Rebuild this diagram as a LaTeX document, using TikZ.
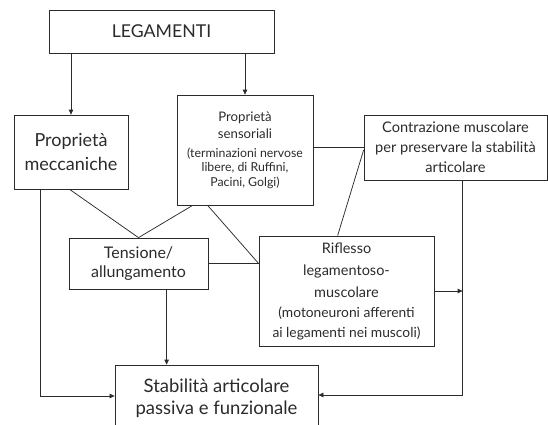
\documentclass[tikz,border=0pt]{standalone}
\usepackage{fontspec}
\setmainfont{Lato}
\usetikzlibrary{arrows.meta,calc}
\definecolor{ink}{HTML}{2B2B2B}
\newcommand{\fs}[2]{\fontsize{#1}{#2}\selectfont}
\begin{document}
\begin{tikzpicture}[x=1pt,y=-1pt,
  box/.style={draw=ink,line width=0.75pt,text=ink,align=center,inner sep=0pt,anchor=center},
  conn/.style={draw=ink,line width=0.75pt},
  arr/.style={conn,-{Triangle[length=5pt,width=4.5pt]}}]
\useasboundingbox (0,0) rectangle (548,424);
\clip (0,0) rectangle (548,424);
\node[box,minimum width=225pt,minimum height=43pt,font=\fs{17.7}{20}] (leg) at (161.5,31.5) {LEGAMENTI};
\node[box,minimum width=114pt,minimum height=74pt,font=\fs{18}{24}] (mec) at (71,152) {Proprietà\\meccaniche};
\node[box,minimum width=136pt,minimum height=110pt,font=\fs{12.3}{14.5}] (sen) at (245,150)
  {\fs{13.2}{17}Proprietà\\[2.5pt]\fs{13.2}{17}sensoriali\\[4.5pt](terminazioni nervose\\libere, di Ruffini,\\Pacini, Golgi)};
\node[box,minimum width=183pt,minimum height=65pt,font=\fs{14.6}{20}] (con) at (455.5,147.5)
  {Contrazione muscolare\\per preservare la stabilità\\articolare};
\node[box,minimum width=139pt,minimum height=51pt,font=\fs{16}{19}] (ten) at (138.5,263.5) {Tensione/\\allungamento};
\node[box,minimum width=175pt,minimum height=110pt,font=\fs{13.8}{20}] (rif) at (346.5,291)
  {\fs{14.5}{22}Riflesso\\[2pt]\fs{14.5}{22}legamentoso-\\[2pt]\fs{14.5}{22}muscolare\\(motoneuroni afferenti\\ai legamenti nei muscoli)};
\node[box,minimum width=203pt,minimum height=66pt,font=\fs{18.5}{22}] (sta) at (216.5,398) {Stabilità articolare\\passiva e funzionale};
\coordinate (cx) at ([xshift=99pt]con.south west);
\coordinate (tx) at ([xshift=98pt]ten.south west);
\coordinate (mx) at ([xshift=27pt]mec.south west);
% arrows from LEGAMENTI
\draw[arr] (leg.south -| mec.north) -- (mec.north);
\draw[arr] (leg.south -| sen.north) -- (sen.north);
% plain connectors
\draw[conn] ([xshift=56pt]mec.south west) -- (ten.north);
\draw[conn] ([xshift=16pt]sen.south west) -- (ten.north);
\draw[conn] ([xshift=31pt]sen.south west) -- (ten.east -| rif.west);
\draw[conn] (ten.east) -- (ten.east -| rif.west);
\draw[conn] (sen.east |- con.west) -- (con.west);
\draw[conn] ([yshift=-2.5pt]con.west) -- ([xshift=79pt]rif.north west);
% to stability
\draw[arr] (tx) -- (tx |- sta.north);
\draw[arr] (mx) |- ([yshift=2pt]sta.west);
\draw[arr] (cx) |- ([yshift=3pt]sta.east);
\draw[arr] (rif.east) -- (rif.east -| cx);
\end{tikzpicture}
\end{document}
